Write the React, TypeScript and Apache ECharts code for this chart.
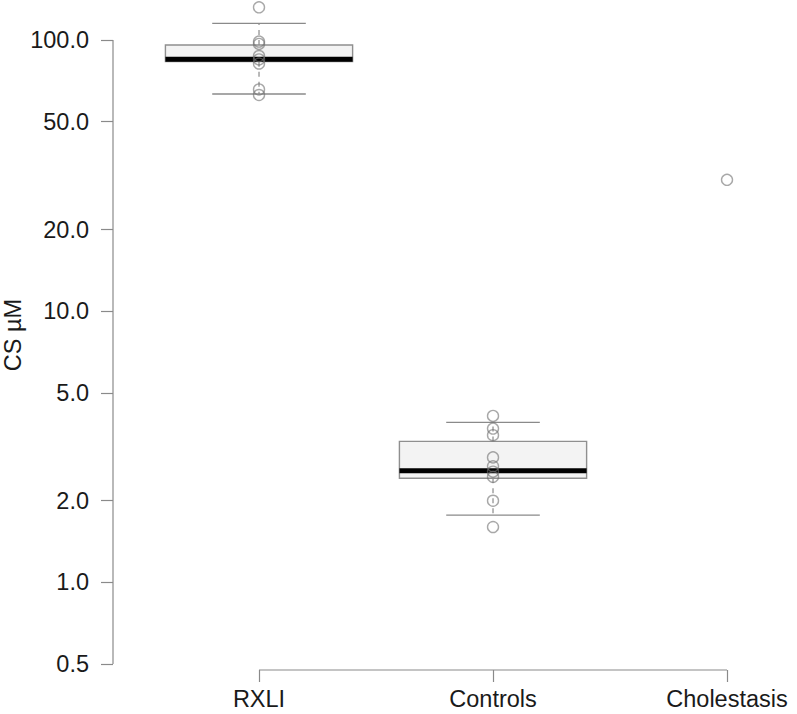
import React, { useEffect, useRef } from "react";
import * as echarts from "echarts";

const categories = ["RXLI", "Controls", "Cholestasis"];
// [lower whisker, Q1, median, Q3, upper whisker]
const rxliStats = [63.2, 83.2, 84.9, 95.9, 115.2];
const controlsStats = [1.77, 2.42, 2.58, 3.31, 3.89];
const rxliPoints = [132.0, 98.7, 96.7, 87.3, 84.8, 81.9, 65.7, 62.7];
const controlsPoints = [4.11, 3.69, 3.49, 2.89, 2.68, 2.56, 2.45, 2.0, 1.6];
const cholestasisPoints = [30.5];
const yTicks = [0.5, 1, 2, 5, 10, 20, 50, 100];
const yTickLabels = ["0.5", "1.0", "2.0", "5.0", "10.0", "20.0", "50.0", "100.0"];

const L = (v: number) => Math.log10(v);

export default function App() {
  const ref = useRef<HTMLDivElement>(null);
  useEffect(() => {
    if (!ref.current) return;
    const chart = echarts.init(ref.current, null, { renderer: "svg" });
    const xMin = 0.376;
    const xMax = 0.376 + 684 / 234;
    const yMin = L(0.5) - 6 / 271.2;
    const yMax = 2 + 40 / 271.2;
    const font = "Liberation Sans, Arial, sans-serif";
    const grey = "#8a8a8a";

    const boxData = [
      [1, ...rxliStats.map(L)],
      [2, ...controlsStats.map(L)],
    ];
    const pointSets = [rxliPoints, controlsPoints, cholestasisPoints];
    const scatterData: number[][] = [];
    pointSets.forEach((pts, i) => pts.forEach((v) => scatterData.push([i + 1, L(v)])));

    chart.setOption({
      animation: false,
      backgroundColor: "#ffffff",
      grid: {
        left: 113,
        right: 0,
        top: 0,
        bottom: 714 - 670,
        containLabel: false,
        outerBoundsMode: "none",
      },
      xAxis: {
        type: "value",
        min: xMin,
        max: xMax,
        axisLine: { show: false, onZero: false },
        splitLine: { show: false },
        axisTick: {
          show: true,
          customValues: [1, 2, 3],
          length: 12,
          lineStyle: { color: grey, width: 1.2 },
        },
        axisLabel: {
          customValues: [1, 2, 3],
          formatter: (v: number) => categories[Math.round(v) - 1] ?? "",
          fontSize: 23.5,
          fontFamily: font,
          color: "#1a1a1a",
          margin: 17,
        },
      },
      yAxis: {
        type: "value",
        min: yMin,
        max: yMax,
        name: "CS µM",
        nameLocation: "middle",
        nameRotate: 90,
        nameGap: 88,
        nameMoveOverlap: false,
        nameTextStyle: { fontSize: 23.5, fontFamily: font, color: "#1a1a1a" },
        axisLine: { show: false, onZero: false },
        splitLine: { show: false },
        axisTick: {
          show: true,
          customValues: yTicks.map(L),
          length: 12,
          lineStyle: { color: grey, width: 1.2 },
        },
        axisLabel: {
          customValues: yTicks.map(L),
          formatter: (v: number) => {
            const idx = yTicks.findIndex((t) => Math.abs(L(t) - v) < 1e-6);
            return idx >= 0 ? yTickLabels[idx] : "";
          },
          fontSize: 23.5,
          fontFamily: font,
          color: "#1a1a1a",
          margin: 24,
        },
      },
      series: [
        {
          type: "custom",
          clip: false,
          silent: true,
          data: [[0]],
          renderItem: (params: any, api: any) => {
            const a = api.coord([xMin, L(yTicks[0])]);
            const b = api.coord([xMin, L(yTicks[yTicks.length - 1])]);
            const c = api.coord([1, yMin]);
            const d = api.coord([3, yMin]);
            return {
              type: "group",
              children: [
                { type: "line", shape: { x1: a[0], y1: a[1], x2: b[0], y2: b[1] }, style: { stroke: grey, lineWidth: 1.2 } },
                { type: "line", shape: { x1: c[0], y1: c[1], x2: d[0], y2: d[1] }, style: { stroke: grey, lineWidth: 1.2 } },
              ],
            };
          },
        },
        {
          type: "custom",
          clip: false,
          silent: true,
          data: boxData,
          encode: { x: 0, y: [1, 2, 3, 4, 5] },
          renderItem: (params: any, api: any) => {
            const x = api.value(0);
            const lo = api.value(1);
            const q1 = api.value(2);
            const med = api.value(3);
            const q3 = api.value(4);
            const hi = api.value(5);
            const p = (xx: number, yy: number) => api.coord([xx, yy]);
            const ln = (p1: number[], p2: number[], style: any) => ({
              type: "line",
              shape: { x1: p1[0], y1: p1[1], x2: p2[0], y2: p2[1] },
              style,
            });
            const whisk = { stroke: grey, lineWidth: 1.2, lineDash: [5, 5] };
            const cap = { stroke: grey, lineWidth: 1.4 };
            const tl = p(x - 0.4, q3);
            const br = p(x + 0.4, q1);
            return {
              type: "group",
              children: [
                ln(p(x, q3), p(x, hi), whisk),
                ln(p(x, q1), p(x, lo), whisk),
                ln(p(x - 0.2, hi), p(x + 0.2, hi), cap),
                ln(p(x - 0.2, lo), p(x + 0.2, lo), cap),
                {
                  type: "rect",
                  shape: { x: tl[0], y: tl[1], width: br[0] - tl[0], height: br[1] - tl[1] },
                  style: { fill: "#f3f3f3", stroke: "#8f8f8f", lineWidth: 1.4 },
                },
                ln(p(x - 0.4, med), p(x + 0.4, med), { stroke: "#000000", lineWidth: 5 }),
              ],
            };
          },
        },
        {
          type: "scatter",
          data: scatterData,
          symbol: "circle",
          symbolSize: 11,
          clip: false,
          silent: true,
          itemStyle: {
            color: "rgba(255,255,255,0)",
            borderColor: "rgba(110,110,110,0.75)",
            borderWidth: 1.4,
          },
        },
      ],
    });
    return () => chart.dispose();
  }, []);
  return (
    <div
      ref={ref}
      style={{ position: "fixed", left: 0, top: 0, width: 797, height: 714 }}
    />
  );
}
